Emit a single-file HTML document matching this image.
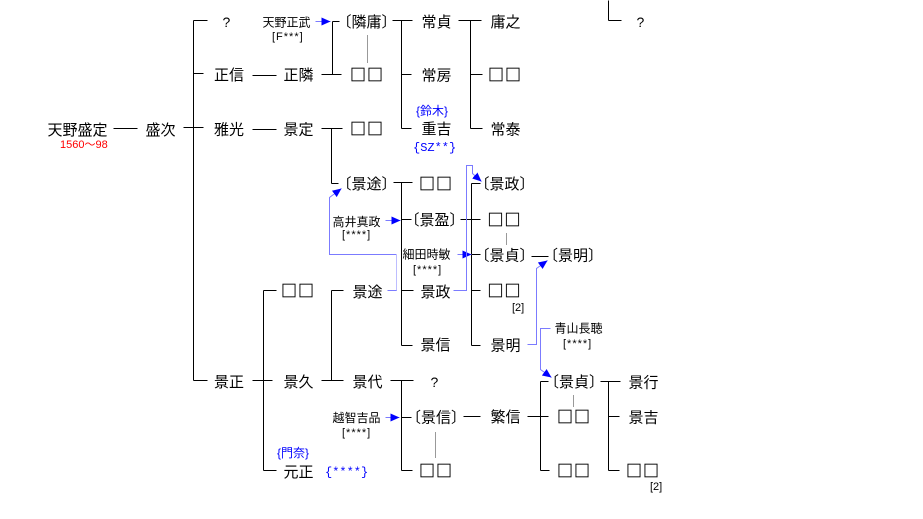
<!DOCTYPE html>
<html><head><meta charset="utf-8">
<style>
html,body{margin:0;padding:0;background:#fff;}
svg{display:block;}
.m{font-family:"Liberation Sans","Noto Sans CJK JP",sans-serif;font-size:15px;fill:#000;}
.s{font-family:"Liberation Sans","Noto Sans CJK JP",sans-serif;font-size:12px;fill:#000;}
.k{font-family:"Liberation Sans",sans-serif;font-size:11px;letter-spacing:1px;fill:#000;}
.k0{font-family:"Liberation Sans",sans-serif;font-size:11px;fill:#000;}
.q{font-family:"Noto Sans CJK JP","Liberation Sans",sans-serif;font-size:16px;letter-spacing:1px;fill:#000;stroke:#000;stroke-width:0.35px;}
.qm{font-family:"Liberation Sans",sans-serif;font-size:14px;fill:#000;}
.bl{fill:#0000ff;}
.mono{font-family:"Liberation Mono",monospace;font-size:12px;fill:#0000ff;}
.red{font-family:"Liberation Sans","Noto Sans CJK JP",sans-serif;font-size:11px;fill:#ff0000;}
</style></head>
<body>
<svg width="923" height="519" viewBox="0 0 923 519" xmlns="http://www.w3.org/2000/svg">
<defs>
<marker id="a" markerUnits="userSpaceOnUse" markerWidth="10" markerHeight="9" refX="9" refY="4.5" orient="auto">
<path d="M0,0.5 L9,4.5 L0,8.5z" fill="#0000ff"/>
</marker>
</defs>
<rect width="923" height="519" fill="#fff"/>
<g transform="translate(0.5,0.5)" fill="none" shape-rendering="crispEdges">
<g stroke="#000" stroke-width="1">
<path d="M113 128H137"/>
<path d="M183 127H203"/>
<path d="M193 20V380M193 20H207M193 73H203M193 380H207"/>
<path d="M252 75H276M252 129H276M252 380H272"/>
<path d="M332 21V74M332 21H339M321 74H341"/>
<path d="M392 20H412M401 20V128M401 74H411M401 128H411"/>
<path d="M458 20H481M470 20V128M470 74H482M470 128H482"/>
<path d="M321 128H342M331 128V183M331 183H338"/>
<path d="M393 182H412M401 182V345M401 219H411M401 290H413M401 345H412"/>
<path d="M460 219H480M471 183V345M471 183H480M471 254H480M471 290H480M471 345H480"/>
<path d="M531 256H548"/>
<path d="M263 290V470M263 290H276M263 470H276"/>
<path d="M321 380H343M331 290V380M331 290H343"/>
<path d="M390 380H413M401 380V470M401 417H411M401 470H412"/>
<path d="M463 416H480"/>
<path d="M527 416H548M540 381V470M540 381H548M540 470H549"/>
<path d="M600 381H620M608 381V470M608 416H619M608 470H619"/>
<path d="M608 0V20M608 20H621"/>
</g>
<g stroke="#333" stroke-width="1" stroke-dasharray="1 1">
<path d="M367 35V62M506 233V244M435 432V458M573 395V406"/>
</g>
<g stroke="#7b7bff" stroke-width="1" shape-rendering="auto">
<path d="M315 21H330" marker-end="url(#a)"/>
<path d="M385 220H400" marker-end="url(#a)"/>
<path d="M457 254H471" marker-end="url(#a)"/>
<path d="M385 417H399" marker-end="url(#a)"/>
<path d="M387 290H396"/>
<path d="M396 290V254" stroke-dasharray="1 1"/>
<path d="M396 254H329V197L341 188" marker-end="url(#a)"/>
<path d="M453 290H466V165H472V173L481 181" marker-end="url(#a)"/>
<path d="M527 344H536V268L547 260" marker-end="url(#a)"/>
<path d="M550 328H540V369L551 377" marker-end="url(#a)"/>
</g>
</g>

<!-- texts -->
<text class="m" x="47.5" y="135">天野盛定</text>
<text class="red" x="60" y="148">1560〜98</text>
<text class="m" x="145.5" y="135">盛次</text>

<text class="qm" x="222.5" y="27">?</text>
<text class="s" x="262.5" y="26.5">天野正武</text>
<text class="k" x="272" y="40">[F***]</text>
<text class="m" x="214" y="80">正信</text>
<text class="m" x="283.5" y="80">正隣</text>
<text class="m" x="214" y="134.5">雅光</text>
<text class="m" x="283.5" y="134.5">景定</text>

<text class="m" x="336.5" y="27">〔隣庸〕</text>
<text class="q" x="350" y="80.5">□□</text>
<text class="q" x="350" y="134.5">□□</text>

<text class="m" x="421.5" y="27">常貞</text>
<text class="m" x="421.5" y="80.5">常房</text>
<text class="s bl" x="416" y="115">{鈴木}</text>
<text class="m" x="421.5" y="134">重吉</text>
<text class="mono" x="413" y="151">{SZ**}</text>

<text class="m" x="490.5" y="27">庸之</text>
<text class="q" x="488" y="80.5">□□</text>
<text class="m" x="490.5" y="134.5">常泰</text>

<text class="qm" x="636.5" y="27">?</text>

<text class="m" x="336.5" y="189">〔景途〕</text>
<text class="q" x="419" y="189.5">□□</text>
<text class="s" x="332.5" y="226">高井真政</text>
<text class="k" x="342" y="238">[****]</text>
<text class="m" x="404.5" y="225">〔景盈〕</text>
<text class="s" x="402.5" y="258.5">細田時敏</text>
<text class="k" x="413" y="273">[****]</text>

<text class="m" x="474.5" y="189">〔景政〕</text>
<text class="q" x="487.5" y="225.5">□□</text>
<text class="m" x="474.5" y="260.5">〔景貞〕</text>
<text class="m" x="543" y="260.5">〔景明〕</text>
<text class="q" x="487.5" y="296.5">□□</text>
<text class="k0" x="512" y="311">[2]</text>
<text class="m" x="490.5" y="350.5">景明</text>
<text class="s" x="554.5" y="332.5">青山長聴</text>
<text class="k" x="563" y="347">[****]</text>

<text class="q" x="281" y="296.5">□□</text>
<text class="m" x="352.5" y="297">景途</text>
<text class="m" x="420.5" y="297">景政</text>
<text class="m" x="420.5" y="350">景信</text>

<text class="m" x="214" y="387">景正</text>
<text class="m" x="283.5" y="387">景久</text>
<text class="m" x="352.5" y="387">景代</text>
<text class="qm" x="430.5" y="387">?</text>

<text class="s" x="332.5" y="422">越智吉品</text>
<text class="k" x="342" y="436">[****]</text>
<text class="m" x="406" y="422.5">〔景信〕</text>
<text class="q" x="419" y="476.5">□□</text>

<text class="s bl" x="277" y="457">{門奈}</text>
<text class="m" x="283.5" y="477">元正</text>
<text class="mono" x="325" y="475.5">{****}</text>

<text class="m" x="490.5" y="422">繁信</text>
<text class="m" x="544" y="387">〔景貞〕</text>
<text class="q" x="557" y="422.5">□□</text>
<text class="q" x="557" y="476.5">□□</text>

<text class="m" x="628.5" y="387.5">景行</text>
<text class="m" x="628.5" y="422.5">景吉</text>
<text class="q" x="626" y="476.5">□□</text>
<text class="k0" x="650" y="490">[2]</text>
</svg>
</body></html>
